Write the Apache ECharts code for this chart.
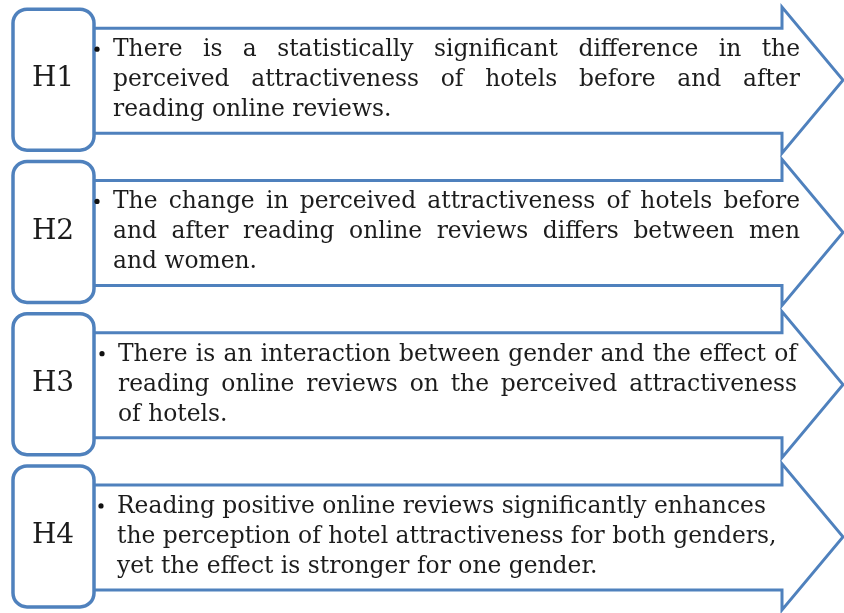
<!DOCTYPE html>
<html><head><meta charset="utf-8">
<script src="https://cdn.jsdelivr.net/npm/echarts@6/dist/echarts.min.js"></script>
<style>html,body{margin:0;padding:0;background:#fff}#c{width:844px;height:613px}</style>
</head><body><div id="c"></div>
<script>
// ---- data ----
const categories = ['H1', 'H2', 'H3', 'H4'];
const linesH1 = [
  'There is a statistically significant difference in the',
  'perceived attractiveness of hotels before and after',
  'reading online reviews.'
];
const linesH2 = [
  'The change in perceived attractiveness of hotels before',
  'and after reading online reviews differs between men',
  'and women.'
];
const linesH3 = [
  'There is an interaction between gender and the effect of',
  'reading online reviews on the perceived attractiveness',
  'of hotels.'
];
const linesH4 = [
  'Reading positive online reviews significantly enhances',
  'the perception of hotel attractiveness for both genders,',
  'yet the effect is stronger for one gender.'
];
const hypothesisLines = [linesH1, linesH2, linesH3, linesH4];

// ---- styles ----
const BLUE = '#4F81BD';
const TEXT = '#1c1c1c';
const FONT = '"DejaVu Serif", "Liberation Serif", serif';
const BODY_SIZE = 23.4;
const LABEL_SIZE = 28;
const justifyCount = [2, 2, 2, 0];
const textLeft = [113, 113, 118, 117];
const textRight = [800, 800, 797, 800];

const mctx = document.createElement('canvas').getContext('2d');
function measure(t, size) {
  mctx.font = size + 'px ' + FONT;
  return mctx.measureText(t).width;
}

function renderItem(params, api) {
  const i = api.value(1);
  const c = api.coord([0, i]);
  const cy = c[1];
  const gx = params.coordSys.x;
  const children = [];
  // arrow
  const shaftL = gx + 92, shaftR = gx + 782, tip = gx + 843;
  children.push({
    type: 'polygon',
    shape: { points: [
      [shaftL, cy - 52], [shaftR, cy - 52], [shaftR, cy - 73], [tip, cy],
      [shaftR, cy + 73], [shaftR, cy + 53], [shaftL, cy + 53]
    ] },
    style: { fill: '#fff', stroke: BLUE, lineWidth: 3, lineJoin: 'miter' }
  });
  // rounded label box
  children.push({
    type: 'rect',
    shape: { x: gx + 13, y: cy - 71, width: 81, height: 141, r: 14 },
    style: { fill: '#fff', stroke: BLUE, lineWidth: 3.5 }
  });
  children.push({
    type: 'text',
    style: { text: categories[i], x: gx + 53, y: cy - 1, fontSize: LABEL_SIZE, fontFamily: FONT,
      fill: TEXT, align: 'center', verticalAlign: 'middle' }
  });
  // bullet
  children.push({
    type: 'circle',
    shape: { cx: gx + textLeft[i] - 16, cy: cy - 31, r: 2.6 },
    style: { fill: '#111' }
  });
  // text lines
  const lines = hypothesisLines[i];
  lines.forEach(function (line, k) {
    const y = cy - 30 + k * 30;
    const x0 = gx + textLeft[i];
    const words = line.split(' ');
    const widths = words.map(function (w) { return measure(w, BODY_SIZE); });
    const total = widths.reduce(function (a, b) { return a + b; }, 0);
    const gap = (textRight[i] - textLeft[i] - total) / (words.length - 1);
    const natGap = measure(' ', BODY_SIZE);
    if (k < justifyCount[i] && gap > natGap * 0.85) {
      let x = x0;
      words.forEach(function (w, j) {
        children.push({
          type: 'text',
          style: { text: w, x: x, y: y, fontSize: BODY_SIZE, fontFamily: FONT, fill: TEXT,
            align: 'left', verticalAlign: 'middle' }
        });
        x += widths[j] + gap;
      });
    } else {
      children.push({
        type: 'text',
        style: { text: line, x: x0, y: y, fontSize: BODY_SIZE, fontFamily: FONT, fill: TEXT,
          align: 'left', verticalAlign: 'middle' }
      });
    }
  });
  return { type: 'group', children: children };
}

const chart = echarts.init(document.getElementById('c'), null, { renderer: 'canvas' });
chart.setOption({
  animation: false,
  backgroundColor: '#fff',
  grid: { left: 0, right: 0, top: 4, bottom: 0 },
  xAxis: { type: 'value', min: 0, max: 844, show: false },
  yAxis: { type: 'category', data: categories, inverse: true, show: false },
  series: [{
    type: 'custom',
    renderItem: renderItem,
    encode: { x: 0, y: 1 },
    data: categories.map(function (c, i) { return [0, i]; }),
    clip: false
  }]
});
</script>
</body></html>
